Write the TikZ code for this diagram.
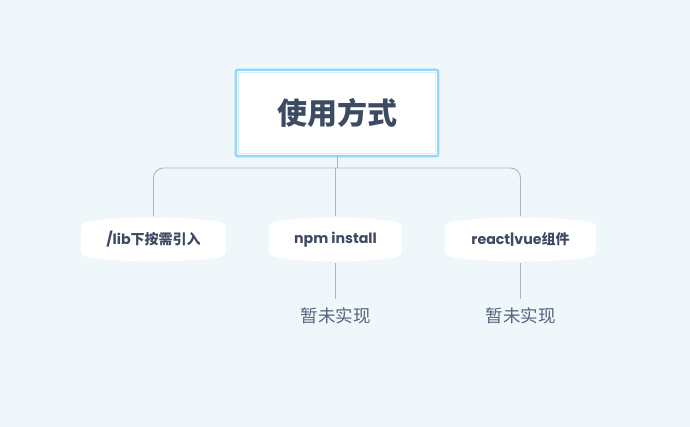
\documentclass[tikz,border=0pt]{standalone}
\usepackage{fontspec}
\setmainfont{Noto Sans CJK SC}
\newfontfamily\lat{Poppins}
\definecolor{bgc}{HTML}{EFF7FB}
\definecolor{txt}{HTML}{3D4A63}
\definecolor{sub}{HTML}{55647C}
\definecolor{conc}{HTML}{A7B7C8}
\definecolor{rootb}{HTML}{92D7FF}
\definecolor{rooti}{HTML}{D6EEFB}
\pgfdeclarelayer{bglayer}
\pgfdeclarelayer{shapelayer}
\pgfsetlayers{bglayer,shapelayer,main}
\tikzset{
  conn/.style={draw=conc, line width=0.9pt},
  child/.style={inner sep=0pt, minimum height=46pt, text=txt, font=\bfseries\fontsize{14}{16}\selectfont},
  latin/.style={},
  leaf/.style={inner xsep=2pt, inner ysep=9pt, text=sub, font=\fontsize{17.5}{19}\selectfont},
  rootbox/.style={minimum width=202pt, minimum height=86pt, inner sep=0pt, text=txt, font=\bfseries\fontsize{30}{32}\selectfont}
}
\newcommand\latt[1]{{\lat\fontsize{14.2}{16}\selectfont #1}}
\newcommand\barrelshape[2]{%
  \begin{scope}[shift={(#1.center)}]
    \fill[white] (-#2,-11) .. controls (-#2,-16) and (-#2+3,-17.5) .. (-#2+12,-18.5)
      .. controls (-#2/2,-23) and (#2/2,-23) .. (#2-12,-18.5)
      .. controls (#2-3,-17.5) and (#2,-16) .. (#2,-11)
      -- (#2,11) .. controls (#2,16) and (#2-3,17.5) .. (#2-12,18.5)
      .. controls (#2/2,23) and (-#2/2,23) .. (-#2+12,18.5)
      .. controls (-#2+3,17.5) and (-#2,16) .. (-#2,11) -- cycle;
  \end{scope}}
\begin{document}
\begin{tikzpicture}[x=1pt,y=-1pt]
\begin{pgfonlayer}{bglayer}
  \fill[bgc] (0,0) rectangle (690,427);
\end{pgfonlayer}
\useasboundingbox (0,0) rectangle (690,427);
% root
\node[rootbox] (root) at (337,113) {使用方式};
\begin{pgfonlayer}{shapelayer}
  \draw[rootb, line width=2.4pt, fill=white, rounded corners=2pt] (root.north west) rectangle (root.south east);
  \draw[rooti, line width=0.8pt] ([shift={(2.5pt,-2.5pt)}]root.north west) rectangle ([shift={(-2.5pt,2.5pt)}]root.south east);
\end{pgfonlayer}
% children
\node[child, minimum width=145pt] (a) at (153.5,239.5) {\latt{/lib}下按需引入};
\node[child, minimum width=133pt] (b) at (335.5,239.5) {\latt{npm install}};
\node[child, minimum width=151pt] (c) at (520.5,239.5) {\latt{react|vue}组件};
\begin{pgfonlayer}{shapelayer}
  \barrelshape{a}{72.5}
  \barrelshape{b}{66.5}
  \barrelshape{c}{75.5}
\end{pgfonlayer}
% leaves
\node[leaf] (nb) at (335.5,316) {暂未实现};
\node[leaf] (nc) at (520.5,316) {暂未实现};
% connectors
\coordinate (hub) at (337,168);
\begin{pgfonlayer}{shapelayer}
\draw[conn] (root.south) -- (hub);
\draw[conn, rounded corners=10pt] (a.north) |- (hub) -| (c.north);
\draw[conn] (b.north) -- (b.north |- hub);
\end{pgfonlayer}
\draw[conn] (b.south) -- (nb.north);
\draw[conn] (c.south) -- (nc.north);
\end{tikzpicture}
\end{document}
